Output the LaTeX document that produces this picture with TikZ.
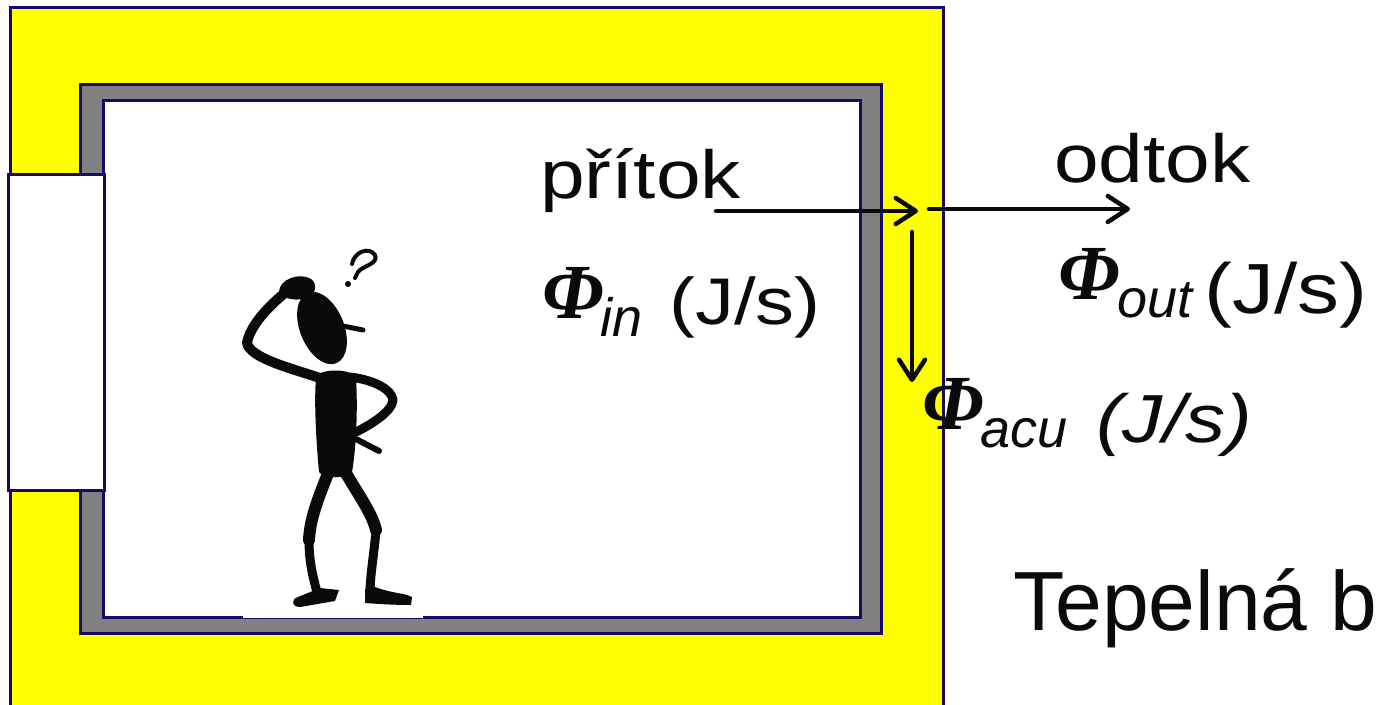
\documentclass[tikz,border=0pt]{standalone}
\usepackage{fontspec}
\setmainfont{Liberation Sans}
\newfontfamily\labfont[FakeStretch=1.18]{Liberation Sans}
\newfontfamily\phifont{Liberation Serif}
\usetikzlibrary{arrows.meta}
\definecolor{insul}{RGB}{255,255,0}
\definecolor{wallgrey}{RGB}{128,128,128}
\definecolor{edge}{RGB}{24,10,100}
\definecolor{ink}{RGB}{10,10,10}
\newcommand{\fluxsym}[2]{{\phifont\bfseries\itshape\fontsize{78}{84}\selectfont Φ}\kern#2\raisebox{-18pt}{\itshape\fontsize{54}{60}\selectfont #1}}

\begin{document}
\begin{tikzpicture}[x=1pt,y=-1pt,
  outline/.style={draw=edge, line width=3pt},
  flow/.style={draw=ink, line width=4.5pt, line cap=round,
    -{Straight Barb[length=20pt,width=26pt,round]}},
  txt/.style={inner sep=0pt, anchor=base west, text=ink},
  word/.style={txt, font=\labfont\fontsize{68}{74}\selectfont},
  wordit/.style={txt, font=\labfont\itshape\fontsize{68}{74}\selectfont},
  limb/.style={draw=ink, line cap=round, line join=round},
]
\useasboundingbox (0,0) rectangle (1381,704);
\clip (0,0) rectangle (1381,704);

% layered wall: insulation, masonry, interior
\filldraw[outline, fill=insul] (10,7) rectangle (943,730);
\filldraw[outline, fill=wallgrey] (80,84) rectangle (881,633);
\filldraw[outline, fill=white] (103,100) rectangle (860,617);
% door opening in the left wall
\filldraw[outline, fill=white] (8,174) rectangle (104,490);
% floor gap under the figure
\fill[white] (243,611) rectangle (423,618.4);

% puzzled figure
\draw[ink, line width=4pt, line cap=round, line join=round]
  (352,264) .. controls (354,252) and (369,246) .. (375,255)
  .. controls (379,264) and (362,266) .. (358,272) -- (355,278);
\fill[ink] (348,284) circle (3);
\fill[ink, rotate around={22:(322,328)}] (322,328) ellipse [x radius=22, y radius=38];
\draw[limb, line width=5pt] (338,325) -- (363,330);
\fill[ink] (279,292) .. controls (279,279) and (300,272) .. (311,279)
  .. controls (318,284) and (316,295) .. (307,298)
  .. controls (298,301) and (284,300) .. (279,292) -- cycle;
\draw[limb, line width=10pt] (286,292) .. controls (270,305) and (250,325) .. (247,343)
  .. controls (250,358) and (290,368) .. (320,378);
\fill[ink] (316,378) .. controls (316,369) and (351,367) .. (356,378)
  .. controls (358,410) and (356,450) .. (352,472)
  .. controls (346,479) and (324,479) .. (319,472)
  .. controls (316,440) and (314,400) .. (316,378) -- cycle;
\draw[limb, line width=9pt] (350,377) .. controls (375,380) and (392,390) .. (393,400)
  .. controls (392,412) and (370,425) .. (356,432);
\draw[limb, line width=6pt] (354,438) -- (379,451);
\draw[limb, line width=12pt] (330,468) .. controls (322,490) and (310,515) .. (309,540);
\draw[limb, line width=9pt] (309,540) .. controls (309,565) and (314,580) .. (318,596);
\fill[ink] (320,588) -- (339,590) -- (335,601) -- (300,607)
  .. controls (291,607) and (291,599) .. (298,597) -- cycle;
\draw[limb, line width=12pt] (343,468) .. controls (355,490) and (372,512) .. (376,530);
\draw[limb, line width=9pt] (376,530) .. controls (374,555) and (370,575) .. (370,594);
\fill[ink] (365,589) -- (375,587) .. controls (390,593) and (405,593) .. (412,597)
  -- (411,605) .. controls (395,605) and (378,604) .. (365,603) -- cycle;

% heat flows
\coordinate (inTail) at (716,211);
\coordinate (inHead) at (918,211);
\coordinate (outTail) at (929,209);
\coordinate (outHead) at (1130,209);
\coordinate (acuTail) at (912,232);
\coordinate (acuHead) at (912,382);
\draw[flow] (inTail) -- (inHead);
\draw[flow] (outTail) -- (outHead);
\draw[flow] (acuTail) -- (acuHead);

% labels
\node[word] (prit) at (540,198) {přítok};
\node[txt] (phiIn) at (542,318) {\fluxsym{in}{-3pt}};
\node[word, font=\labfont\fontsize{66}{72}\selectfont] (unitIn) at (669,324) {(J/s)};

\node[word] (odt) at (1054,182) {odtok};
\node[txt] (phiOut) at (1058,299) {\fluxsym{out}{-2pt}};
\node[word, font=\labfont\fontsize{71}{76}\selectfont] (unitOut) at (1204,313) {(J/s)};

\node[txt] (phiAcu) at (922,429) {\fluxsym{acu}{-3pt}};
\node[wordit] (unitAcu) at (1096,442) {(J/s)};

\node[txt, font=\fontsize{84}{90}\selectfont] (title) at (1013,630) {Tepelná b};
\end{tikzpicture}
\end{document}
